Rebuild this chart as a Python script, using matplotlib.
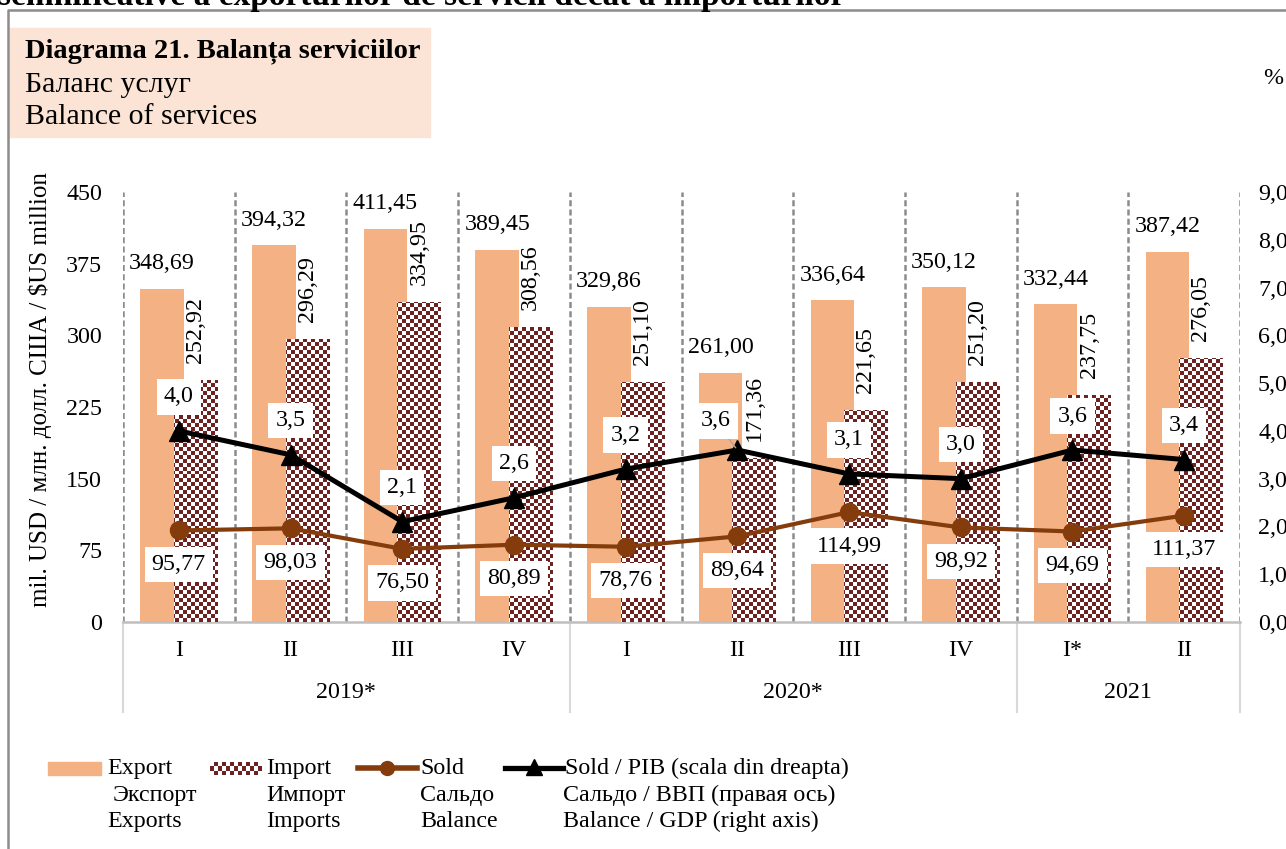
import numpy as np
import matplotlib.pyplot as plt
from matplotlib.colors import ListedColormap
from matplotlib.patches import Rectangle
from matplotlib.lines import Line2D

plt.rcParams['font.family'] = ['Liberation Serif', 'DejaVu Serif']

# data
quarters = ['I', 'II', 'III', 'IV', 'I', 'II', 'III', 'IV', 'I*', 'II']
years = ['2019*', '2020*', '2021']
year_spans = [(0, 3), (4, 7), (8, 9)]
export = [348.69, 394.32, 411.45, 389.45, 329.86, 261.00, 336.64, 350.12, 332.44, 387.42]
imports = [252.92, 296.29, 334.95, 308.56, 251.10, 171.36, 221.65, 251.20, 237.75, 276.05]
sold = [95.77, 98.03, 76.50, 80.89, 78.76, 89.64, 114.99, 98.92, 94.69, 111.37]
sold_pib = [4.0, 3.5, 2.1, 2.6, 3.2, 3.6, 3.1, 3.0, 3.6, 3.4]


def fmt(v, nd=2):
    return f"{v:.{nd}f}".replace('.', ',')


W, H = 1286, 849
fig = plt.figure(figsize=(W / 100, H / 100), dpi=100)


def fx(px):
    return px / W


def fy(py):
    return 1 - py / H


exp_col = '#F4B183'
imp_col = '#6E2323'
sold_col = '#843C0C'
fs = 17.3

ax = fig.add_axes([fx(123), fy(622), 1117 / W, 430 / H])
ax2 = ax.twinx()

x = np.arange(len(quarters))
bw = 0.39
checker = np.indices((108, 280)).sum(axis=0) % 2
cmap = ListedColormap(['white', imp_col])

ax.bar(x - 0.15, export, bw, color=exp_col, zorder=2)
imp_bars = ax.bar(x + 0.15, imports, bw, color='none', zorder=3)
for b in imp_bars:
    im = ax.imshow(checker, cmap=cmap, extent=(-0.5, 9.5, 0, 450), origin='lower',
                   aspect='auto', interpolation='nearest', zorder=3)
    im.set_clip_path(b)

# dashed separators between quarters
for b in np.arange(-0.5, 10, 1):
    ax.axvline(b, color='#8c8c8c', lw=1.8, ls=(0, (2.4, 1.3)), zorder=1)

ax.plot(x, sold, color=sold_col, lw=3, marker='o', ms=13, zorder=6)
ax2.plot(x, sold_pib, color='black', lw=3.6, marker='^', ms=14, zorder=6)

box = dict(boxstyle='square,pad=0.3', fc='white', ec='none')
for i in x:
    ax.annotate(fmt(export[i]), (i - 0.15, export[i]), xytext=(0, 25), textcoords='offset pixels',
                ha='center', va='center', fontsize=fs, zorder=7)
    ax.annotate(fmt(imports[i]), (i + 0.15, imports[i]), xytext=(0, 17), textcoords='offset pixels',
                ha='center', va='bottom', rotation=90, fontsize=fs, zorder=7)
    ax.annotate(fmt(sold[i]), (i, sold[i]), xytext=(0, -34), textcoords='offset pixels',
                ha='center', va='center', fontsize=fs, bbox=box, zorder=7)
    if i == 5:
        ax2.annotate(fmt(sold_pib[i], 1), (i, sold_pib[i]), xytext=(-22, 29), textcoords='offset pixels',
                     ha='center', va='center', fontsize=fs, bbox=box, zorder=7,
                     arrowprops=dict(arrowstyle='-', color='#a6a6a6', lw=1, shrinkA=0, shrinkB=2))
    else:
        ax2.annotate(fmt(sold_pib[i], 1), (i, sold_pib[i]), xytext=(0, 34), textcoords='offset pixels',
                     ha='center', va='center', fontsize=fs, bbox=box, zorder=7)

ax.set_xlim(-0.5, 9.5)
ax.set_ylim(0, 450)
ax.set_yticks(range(0, 451, 75))
ax.set_xticks([])
ax2.set_ylim(0, 9)
ax2.set_yticks(range(10))
ax2.set_yticklabels([fmt(v) for v in range(10)])
ax.tick_params(axis='y', length=0, labelsize=fs, pad=15)
ax2.tick_params(axis='y', length=0, labelsize=fs, pad=13)
for s in ax.spines.values():
    s.set_visible(False)
for s in ax2.spines.values():
    s.set_visible(False)
ax.spines['bottom'].set_visible(True)
ax.spines['bottom'].set_color('#bfbfbf')
ax.spines['bottom'].set_linewidth(1.8)

# category axis: quarters and years
tr = ax.get_xaxis_transform()
for i, q in enumerate(quarters):
    ax.text(i, -28 / 430, q, transform=tr, ha='center', va='center', fontsize=fs)
for yr, (a, b) in zip(years, year_spans):
    ax.text((a + b) / 2, -70 / 430, yr, transform=tr, ha='center', va='center', fontsize=fs)
for b in [-0.5, 3.5, 7.5, 9.5]:
    ax.plot([b, b], [0, -90 / 430], transform=tr, color='#d9d9d9', lw=1.5, clip_on=False)

fig.text(fx(40), fy(390), 'mil. USD / млн. долл. США / $US million', rotation=90,
         ha='center', va='center', fontsize=18)
fig.text(fx(1273), fy(78), '%', ha='center', va='center', fontsize=fs)

# frame and cut-off heading above
fig.add_artist(Line2D([fx(8), fx(8), fx(W + 5)], [fy(H + 5), fy(10), fy(10)],
                      color='#8c8c8c', lw=1.8, transform=fig.transFigure))
fig.text(fx(-2), fy(5), 'semnificative a exporturilor de servicii decât a importurilor',
         ha='left', va='baseline', fontsize=24, fontweight='bold')

# title box
fig.add_artist(Rectangle((fx(10), fy(137)), 420 / W, 109 / H, color='#FBE4D5',
                         transform=fig.transFigure, zorder=0))
fig.text(fx(25), fy(51), 'Diagrama 21. Balanța serviciilor', ha='left', va='center',
         fontsize=20.5, fontweight='bold')
fig.text(fx(25), fy(85), 'Баланс услуг', ha='left', va='center', fontsize=21.5)
fig.text(fx(25), fy(117), 'Balance of services', ha='left', va='center', fontsize=21.5)

# legend
r1, r2, r3 = 768, 795, 821
fig.add_artist(Rectangle((fx(48), fy(775)), 53 / W, 13 / H, color=exp_col,
                         transform=fig.transFigure))
lax = fig.add_axes([fx(210), fy(775), 52 / W, 13 / H])
lax.imshow(checker[:3, :13], cmap=cmap, aspect='auto', interpolation='nearest')
lax.axis('off')
fig.add_artist(Line2D([fx(358), fx(417)], [fy(r1)] * 2, color=sold_col, lw=4,
                      transform=fig.transFigure))
fig.add_artist(Line2D([fx(387)], [fy(r1)], color=sold_col, marker='o', ms=10,
                      transform=fig.transFigure))
fig.add_artist(Line2D([fx(505), fx(563)], [fy(r1)] * 2, color='black', lw=3.8,
                      transform=fig.transFigure))
fig.add_artist(Line2D([fx(534)], [fy(r1 - 1)], color='black', marker='^', ms=11,
                      transform=fig.transFigure))

legend_rows = [
    ['Export', 'Import', 'Sold', 'Sold / PIB (scala din dreapta)'],
    ['Экспорт', 'Импорт', 'Сальдо', 'Сальдо / ВВП (правая ось)'],
    ['Exports', 'Imports', 'Balance', 'Balance / GDP (right axis)'],
]
col_x = [[107, 266, 420, 565], [113, 266, 420, 563], [107, 266, 420, 563]]
for row, xs, yy in zip(legend_rows, col_x, [r1, r2, r3]):
    for txt, xx in zip(row, xs):
        fig.text(fx(xx), fy(yy + 6), txt, ha='left', va='baseline', fontsize=fs)

fig.savefig('out.png', dpi=100)
